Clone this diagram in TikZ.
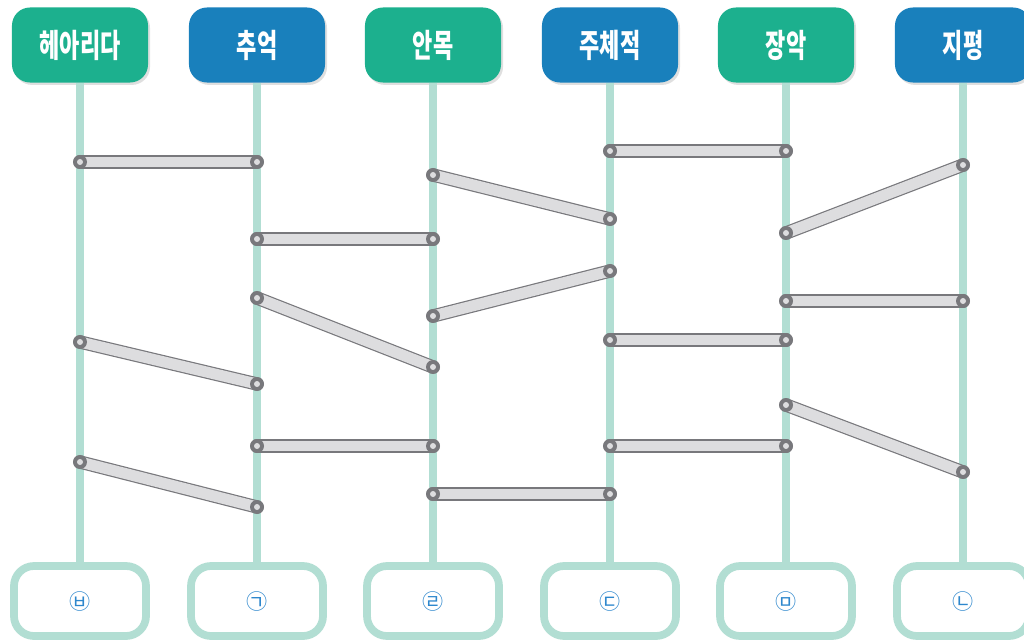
\documentclass[tikz,border=0pt]{standalone}
\usepackage{fontspec}
\usepackage{graphicx}
\newfontfamily\kr{Noto Sans CJK KR}
\usetikzlibrary{shadows}
\definecolor{wordgreen}{RGB}{28,176,142}
\definecolor{wordblue}{RGB}{25,128,188}
\definecolor{ladder}{RGB}{178,222,211}
\definecolor{rungfill}{RGB}{221,221,223}
\definecolor{rungline}{RGB}{120,120,124}
\definecolor{markblue}{RGB}{45,135,205}
\tikzset{
  word/.style={rounded corners=0.45cm, minimum width=3.4cm, minimum height=1.875cm,
    text=white, font=\kr\bfseries\fontsize{23}{23}\selectfont,
    drop shadow={shadow xshift=0.05cm, shadow yshift=-0.06cm, opacity=0.25}},
  answer/.style={draw=ladder, line width=5.5pt, rounded corners=0.5cm, fill=white,
    minimum width=3.3cm, minimum height=1.75cm, text=markblue, font=\kr\fontsize{15}{15}\selectfont},
  pole/.style={ladder, line width=5.7pt},
  rungedge/.style={rungline, line width=9.5pt, line cap=round},
  rungbody/.style={rungfill, line width=7.8pt, line cap=round}
}
\newcommand{\narrow}[1]{\scalebox{0.68}[1]{#1}}
\begin{document}
\begin{tikzpicture}[x=0.025cm, y=-0.025cm]
  \useasboundingbox (0,0) rectangle (1024,642);
  % top words
  \node[word, fill=wordgreen] (h1) at (80,45) {\narrow{헤아리다}};
  \node[word, fill=wordblue]  (h2) at (257,45) {\narrow{추억}};
  \node[word, fill=wordgreen] (h3) at (433,45) {\narrow{안목}};
  \node[word, fill=wordblue]  (h4) at (610,45) {\narrow{주체적}};
  \node[word, fill=wordgreen] (h5) at (786,45) {\narrow{장악}};
  \node[word, fill=wordblue]  (h6) at (963,45) {\narrow{지평}};
  % bottom answers
  \node[answer] (b1) at (80,601) {㉥};
  \node[answer] (b2) at (257,601) {㉠};
  \node[answer] (b3) at (433,601) {㉣};
  \node[answer] (b4) at (610,601) {㉢};
  \node[answer] (b5) at (786,601) {㉤};
  \node[answer] (b6) at (963,601) {㉡};
  % poles
  \foreach \i in {1,...,6}
    \draw[pole] (h\i.south) -- (b\i.north);
  % rungs: column/y -- column/y
  \foreach \i/\ya/\j/\yb in {1/162/2/162, 3/175/4/219, 4/151/5/151, 6/165/5/233,
      2/239/3/239, 3/316/4/271, 5/301/6/301, 2/298/3/367, 4/340/5/340,
      1/342/2/384, 5/405/6/472, 2/446/3/446, 4/446/5/446, 1/462/2/507, 3/494/4/494}{
    \coordinate (ra) at (h\i.south |- 0,\ya);
    \coordinate (rb) at (h\j.south |- 0,\yb);
    \draw[rungedge] (ra) -- (rb);
    \draw[rungbody] (ra) -- (rb);
    \foreach \p in {ra,rb}{
      \fill[rungline] (\p) circle (7);
      \fill[rungfill] (\p) circle (3);
    }
  }
\end{tikzpicture}
\end{document}
